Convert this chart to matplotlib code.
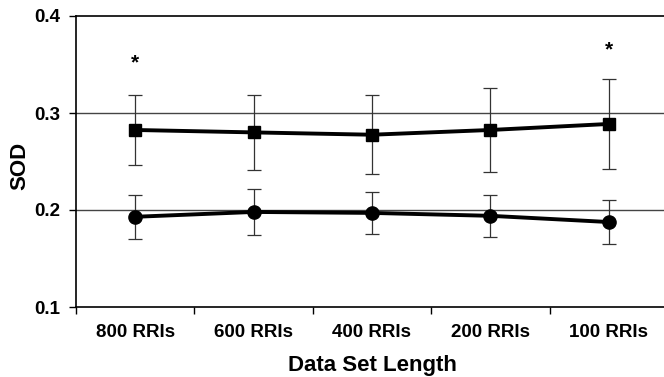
import numpy as np
import matplotlib
matplotlib.use("Agg")
import matplotlib.pyplot as plt

# ── Data ─────────────────────────────────────────────────────────────────────
categories = ["800 RRIs", "600 RRIs", "400 RRIs", "200 RRIs", "100 RRIs"]
sq_mean = [0.2825, 0.280, 0.2776, 0.2825, 0.2887]
sq_err = [0.036, 0.039, 0.0405, 0.043, 0.046]
ci_mean = [0.193, 0.198, 0.197, 0.194, 0.1876]
ci_err = [0.0225, 0.0235, 0.022, 0.0215, 0.023]
star_idx = [0, 4]
star_y = [0.3515, 0.365]

plt.rcParams.update({
    "font.family": ["Liberation Sans", "DejaVu Sans"],
    "font.weight": "bold",
})

fig = plt.figure(figsize=(6.64, 3.77), dpi=100)
ax = fig.add_axes([76 / 664, 1 - 307 / 377, 592 / 664, 291 / 377])

x = np.arange(len(categories))

for yv in [0.2, 0.3]:
    ax.axhline(yv, color="#444444", lw=1.0, zorder=1)

ax.errorbar(x, sq_mean, yerr=sq_err, fmt="none", ecolor="#333333",
            elinewidth=0.9, capsize=5, capthick=0.9, zorder=2)
ax.errorbar(x, ci_mean, yerr=ci_err, fmt="none", ecolor="#333333",
            elinewidth=0.9, capsize=5, capthick=0.9, zorder=2)
ax.plot(x, sq_mean, color="black", lw=2.8, marker="s", ms=9, zorder=3)
ax.plot(x, ci_mean, color="black", lw=2.8, marker="o", ms=9.5, zorder=3)

for i, yv in zip(star_idx, star_y):
    ax.text(x[i], yv, "*", ha="center", va="center", fontsize=15)

ax.set_xlim(-0.5, len(categories) - 0.5)
ax.set_ylim(0.1, 0.4)
ax.set_yticks([0.1, 0.2, 0.3, 0.4])
ax.set_yticklabels(["0.1", "0.2", "0.3", "0.4"], fontsize=13.5)
ax.set_xticks(x)
ax.set_xticklabels(categories, fontsize=13.5)
ax.set_xticks(np.arange(-0.5, len(categories)), minor=True)
ax.tick_params(axis="x", which="major", length=0, pad=12)
ax.tick_params(axis="x", which="minor", length=5, width=1, direction="out")
ax.tick_params(axis="y", length=5, width=1, direction="out", pad=6)

for side in ["top", "right", "left", "bottom"]:
    ax.spines[side].set_linewidth(1.2)
    ax.spines[side].set_color("black")

ax.set_xlabel("Data Set Length", fontsize=16, fontweight="bold", labelpad=10)
fig.text(20 / 664, 1 - 166 / 377, "SOD", rotation=90, ha="center",
         va="center", fontsize=16, fontweight="bold")

fig.savefig("out.png", dpi=100)
